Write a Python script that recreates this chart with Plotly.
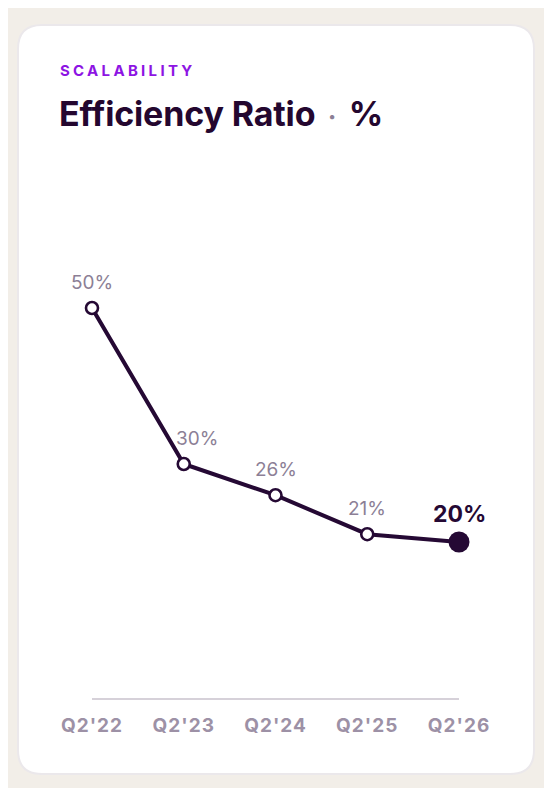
import plotly.graph_objects as go

quarters = ["Q2'22", "Q2'23", "Q2'24", "Q2'25", "Q2'26"]
ratio = [50, 30, 26, 21, 20]
label_shift = [0, 13, 0, 0, 0]

# page body has an 8px margin, so the figure is drawn 8px in
OFF = 8
W, H = 552 - OFF, 788 - OFF
L, R, T, B = 92 - OFF, 93, 230 - OFF, 90
pw, ph = W - L - R, H - T - B

def px(x):
    return (x - OFF - L) / pw

def py(y):
    return (H - B - (y - OFF)) / ph

ink = "#250934"
muted = "#8c7f96"

fig = go.Figure()

fig.add_trace(go.Scatter(
    x=quarters, y=ratio, mode="lines", line=dict(color=ink, width=4),
    cliponaxis=False, hoverinfo="skip"))
fig.add_trace(go.Scatter(
    x=quarters[:-1], y=ratio[:-1], mode="markers",
    marker=dict(size=12, color="white", line=dict(color=ink, width=2.6)),
    cliponaxis=False, hoverinfo="skip"))
fig.add_trace(go.Scatter(
    x=quarters[-1:], y=ratio[-1:], mode="markers",
    marker=dict(size=21, color=ink, line=dict(width=0)),
    cliponaxis=False, hoverinfo="skip"))

for i, (q, v) in enumerate(zip(quarters, ratio)):
    last = i == len(ratio) - 1
    fig.add_annotation(
        x=q, y=v, text=f"{v}%", showarrow=False,
        xshift=label_shift[i], yshift=28 if last else 26,
        font=dict(family="Inter", size=23 if last else 19,
                  color=ink if last else muted,
                  weight=700 if last else 400))

# card background
x0, x1, y0, y1, r = 18, 534, 25, 774, 24
card = (f"M {px(x0 + r)} {py(y0)} L {px(x1 - r)} {py(y0)} "
        f"Q {px(x1)} {py(y0)} {px(x1)} {py(y0 + r)} "
        f"L {px(x1)} {py(y1 - r)} Q {px(x1)} {py(y1)} {px(x1 - r)} {py(y1)} "
        f"L {px(x0 + r)} {py(y1)} Q {px(x0)} {py(y1)} {px(x0)} {py(y1 - r)} "
        f"L {px(x0)} {py(y0 + r)} Q {px(x0)} {py(y0)} {px(x0 + r)} {py(y0)} Z")
fig.add_shape(type="path", path=card, xref="paper", yref="paper",
              fillcolor="white", line=dict(color="#ebe8eb", width=2), layer="below")

fig.add_annotation(
    x=px(58), y=py(70), xref="paper", yref="paper", xanchor="left", yanchor="middle",
    text="<span style='letter-spacing:3.3px'>SCALABILITY</span>", showarrow=False,
    font=dict(family="Inter", size=15, color="#8d14e3", weight=700))
fig.add_annotation(
    x=px(57), y=py(113), xref="paper", yref="paper", xanchor="left", yanchor="middle",
    text=("<span style='letter-spacing:-0.15px'>Efficiency Ratio</span>"
          "<span style='color:#8c7f96;font-size:26px'>  ·  </span>%"),
    showarrow=False,
    font=dict(family="Inter", size=34, color="#24072f", weight=700))

tick_text = [f"<span style='letter-spacing:1px'>{q}</span>" for q in quarters]

fig.update_layout(
    width=W, height=H, margin=dict(l=L, r=R, t=T, b=B),
    paper_bgcolor="#f2eee8", plot_bgcolor="rgba(0,0,0,0)",
    showlegend=False,
    xaxis=dict(range=[0, 4], showgrid=False, zeroline=False, ticks="",
               tickvals=quarters, ticktext=tick_text,
               showline=True, linecolor="#d6d1d9", linewidth=1.5,
               tickfont=dict(family="Inter", size=19, color="#9d91a6", weight=700),
               ticklabelstandoff=9, fixedrange=True),
    yaxis=dict(range=[0, 60], visible=False, fixedrange=True),
)

fig.write_html("out.html")
